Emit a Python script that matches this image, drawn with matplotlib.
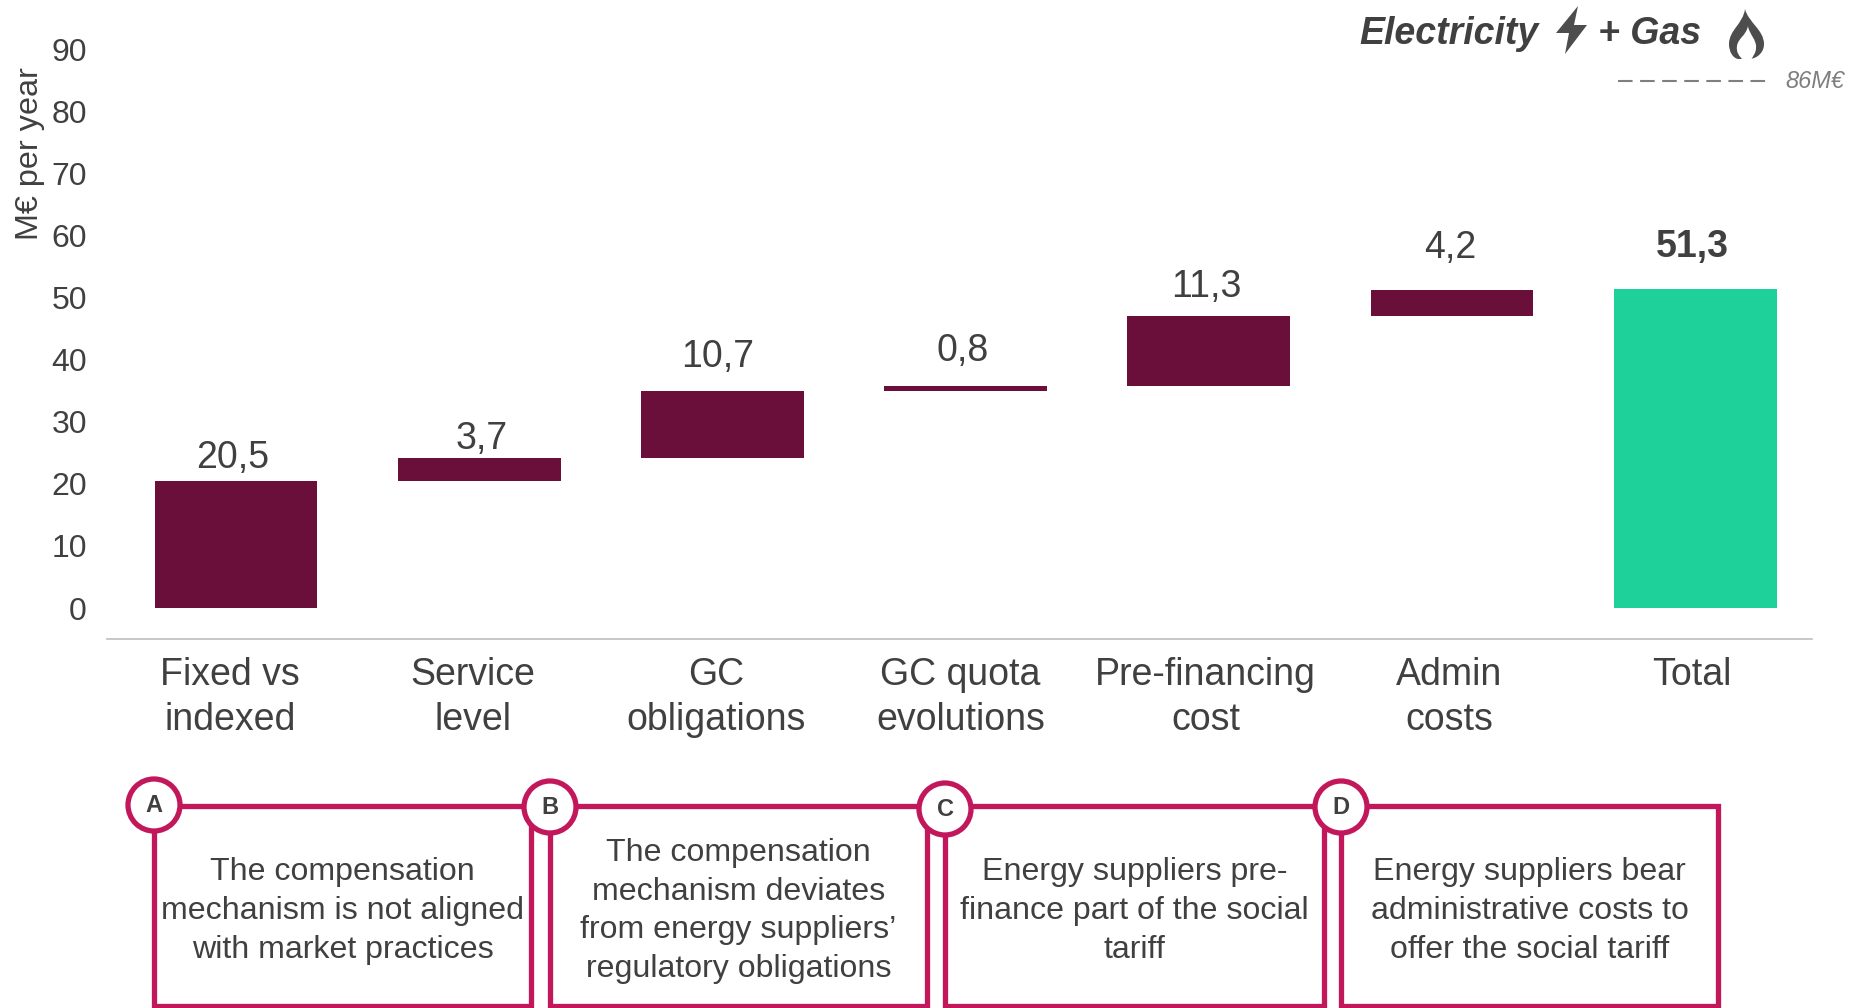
import matplotlib
matplotlib.use("Agg")
import matplotlib.pyplot as plt
from matplotlib.patches import Circle, PathPatch, Polygon, Rectangle
from matplotlib.path import Path
from matplotlib.transforms import ScaledTranslation

plt.rcParams['font.family'] = ['Liberation Sans', 'DejaVu Sans']

# data
categories = ['Fixed vs\nindexed', 'Service\nlevel', 'GC\nobligations', 'GC quota\nevolutions',
              'Pre-financing\ncost', 'Admin\ncosts', 'Total']
steps = [20.5, 3.7, 10.7, 0.8, 11.3, 4.2]
total = 51.3
yticks = [0, 10, 20, 30, 40, 50, 60, 70, 80, 90]
box_letters = ['A', 'B', 'C', 'D']
box_texts = ['The compensation\nmechanism is not aligned\nwith market practices',
             'The compensation\nmechanism deviates\nfrom energy suppliers\u2019\nregulatory obligations',
             'Energy suppliers pre-\nfinance part of the social\ntariff',
             'Energy suppliers bear\nadministrative costs to\noffer the social tariff']

# layout, in pixels of the 1862x1008 picture
W, H = 1862, 1008
label_gaps = [23, 19, 34, 35, 29, 42, 42]
label_shift = [-3, 2, -5, -3, -2, -2, -3]
cat_shift = [-6, -6, -6, -5, -3, -3, -3]
box_lefts = [154, 550, 945, 1341]
box_rights = [531, 927, 1324, 1718]
circle_ys = [805, 807, 809, 807]

TEXT = '#404040'
GREY = '#7f7f7f'
WINE = '#6a0f3a'
TEAL = '#1ed19a'
PINK = '#c2185b'
ICON = '#4d4d4d'


def px(v):
    return v * 72 / 100


fig = plt.figure(figsize=(W / 100, H / 100), dpi=100)

# chart axes: baseline line at y=639 px, value 0 at 608 px, 6.21 px per unit
ax = fig.add_axes([107 / W, 1 - 639 / H, (1812 - 107) / W, 639 / H])
ax.set_xlim((107 - 236) / 243.2, (1812 - 236) / 243.2)
ax.set_ylim(-31 / 6.21, 608 / 6.21)

bottoms = []
level = 0
for s in steps:
    bottoms.append(level)
    level += s
ax.bar(range(6), steps, bottom=bottoms, width=0.67, color=WINE)
ax.bar([6], [total], width=0.67, color=TEAL)

tops = [b + s for b, s in zip(bottoms, steps)] + [total]
values = steps + [total]
for i, (top, v) in enumerate(zip(tops, values)):
    ax.annotate(f'{v:.1f}'.replace('.', ','), (i, top),
                xytext=(px(label_shift[i]), px(label_gaps[i])), textcoords='offset points',
                ha='center', va='center', fontsize=27, color=TEXT,
                fontweight='bold' if i == 6 else 'normal')

for side in ['top', 'right', 'left']:
    ax.spines[side].set_visible(False)
ax.spines['bottom'].set_color('#bfbfbf')
ax.spines['bottom'].set_linewidth(1.2)
ax.patch.set_alpha(0)

ax.set_yticks(yticks)
ax.tick_params(axis='y', length=0, labelsize=23, labelcolor=TEXT, pad=px(20))
ax.set_xticks(range(7))
ax.set_xticklabels(categories, linespacing=1.33)
ax.tick_params(axis='x', length=0, labelsize=27, labelcolor=TEXT, pad=px(18))
for lab, dx in zip(ax.get_xticklabels(), cat_shift):
    lab.set_transform(lab.get_transform() + ScaledTranslation(dx / 100, 0, fig.dpi_scale_trans))

# overlay in pixel coordinates for the boxes, icons and header
ov = fig.add_axes([0, 0, 1, 1])
ov.set_xlim(0, W)
ov.set_ylim(H, 0)
ov.axis('off')
ov.patch.set_alpha(0)

ov.text(30, 154, 'M\u20ac per year', rotation=90, ha='center', va='center', fontsize=23.3, color=TEXT)

ov.text(1359, 34, 'Electricity', fontsize=27, fontweight='bold', style='italic', color=TEXT, va='center')
ov.text(1598, 34, '+ Gas', fontsize=27, fontweight='bold', style='italic', color=TEXT, va='center')
ov.text(1785, 82, '86M\u20ac', fontsize=17, style='italic', color=GREY, va='center')
ov.plot([1618, 1766], [81, 81], color=GREY, lw=1.5, dashes=(7, 3.6))

# lightning
ov.add_patch(Polygon([(1578, 6), (1556, 33), (1569, 33), (1565, 54), (1587, 25), (1574, 25)],
                     closed=True, color=ICON, lw=0))
# flame, dark teardrop with a white tongue on top
C4 = Path.CURVE4
outer = Path([(1745, 9), (1748, 22), (1764, 30), (1764, 44), (1764, 52), (1758, 58), (1750, 59),
              (1738, 59), (1733, 58), (1729, 52), (1729, 44), (1729, 30), (1743, 24), (1745, 9)],
             [Path.MOVETO, C4, C4, C4, C4, C4, C4, Path.LINETO, C4, C4, C4, C4, C4, C4])
inner = Path([(1748, 26), (1749, 34), (1757, 40), (1756, 48), (1756, 53), (1753, 56), (1751, 60),
              (1743, 60), (1739, 56), (1736, 52), (1737, 46), (1738, 38), (1746, 36), (1748, 26)],
             [Path.MOVETO, C4, C4, C4, C4, C4, C4, Path.LINETO, C4, C4, C4, C4, C4, C4])
ov.add_patch(PathPatch(outer, facecolor=ICON, lw=0))
ov.add_patch(PathPatch(inner, facecolor='white', lw=0))

# explanation boxes
for letter, txt, x0, x1, cy in zip(box_letters, box_texts, box_lefts, box_rights, circle_ys):
    ov.add_patch(Rectangle((x0, 806), x1 - x0, 200, fill=False, edgecolor=PINK, lw=3.8, zorder=2))
    ov.add_patch(Circle((x0, cy), 26, facecolor='white', edgecolor=PINK, lw=3.8, zorder=3))
    ov.text(x0, cy, letter, ha='center', va='center', fontsize=17, fontweight='bold', color=TEXT, zorder=4)
    ov.text((x0 + x1) / 2, 911, txt, ha='center', va='center', fontsize=23.1, color=TEXT,
            linespacing=1.37, zorder=4)

fig.savefig('out.png', dpi=100)
